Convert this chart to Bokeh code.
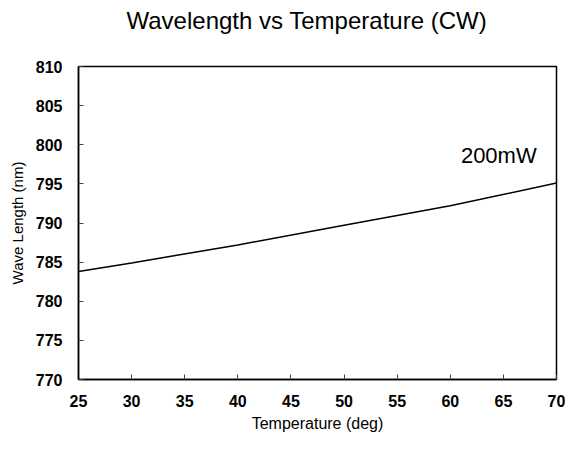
from bokeh.plotting import figure
from bokeh.models import Range1d, FixedTicker, Label, Title
from bokeh.embed import file_html
from bokeh.resources import INLINE

temperature = [25, 30, 40, 50, 60, 70]
wavelength = [783.8, 784.9, 787.2, 789.7, 792.2, 795.1]
x_ticks = [25, 30, 35, 40, 45, 50, 55, 60, 65, 70]
y_ticks = [770, 775, 780, 785, 790, 795, 800, 805, 810]
title_text = "Wavelength vs Temperature (CW)"
series_label = "200mW"
label_pos = (61.0, 797.0)

FONT = "Liberation Sans"

p = figure(width=565, height=436, output_backend="svg", toolbar_location=None,
           x_range=Range1d(25, 70), y_range=Range1d(770, 810),
           min_border_left=78, min_border_right=9, min_border_top=66, min_border_bottom=57)
p.title.visible = False

# empty spacer between the frame and the title (keeps the title high without moving the frame)
p.add_layout(Title(text=" ", text_font_size="1px", standoff=30), "above")
p.add_layout(Title(text=title_text, align="left", offset=48, standoff=0,
                   text_font=FONT, text_font_size="24px", text_font_style="normal",
                   text_color="black"), "above")

p.line(temperature, wavelength, line_color="black", line_width=1.5)

p.add_layout(Label(x=label_pos[0], y=label_pos[1], text=series_label, text_font=FONT,
                   text_font_size="22px", text_color="black"))

p.grid.visible = False
p.outline_line_color = "black"
p.outline_line_width = 1.5
p.outline_line_alpha = 1

for ax in (p.xaxis[0], p.yaxis[0]):
    ax.axis_line_color = "black"
    ax.axis_line_width = 1.5
    ax.major_tick_in = 5
    ax.major_tick_out = 0
    ax.minor_tick_in = 0
    ax.minor_tick_out = 0
    ax.major_tick_line_color = "#444444"
    ax.major_tick_line_width = 1
    ax.major_label_text_font = FONT
    ax.major_label_text_font_size = "16px"
    ax.major_label_text_font_style = "bold"
    ax.major_label_text_color = "black"
    ax.axis_label_text_font = FONT
    ax.axis_label_text_font_style = "normal"
    ax.axis_label_text_color = "black"

p.xaxis.axis_label_text_font_size = "16px"
p.yaxis.axis_label_text_font_size = "15px"
p.xaxis.ticker = FixedTicker(ticks=x_ticks)
p.yaxis.ticker = FixedTicker(ticks=y_ticks)
p.xaxis.axis_label = "Temperature (deg)"
p.yaxis.axis_label = "Wave Length (nm)"
p.xaxis.major_label_standoff = 15
p.yaxis.major_label_standoff = 16
p.xaxis.axis_label_standoff = 5
p.yaxis.axis_label_standoff = 7

open("out.html", "w").write(file_html(p, INLINE))
